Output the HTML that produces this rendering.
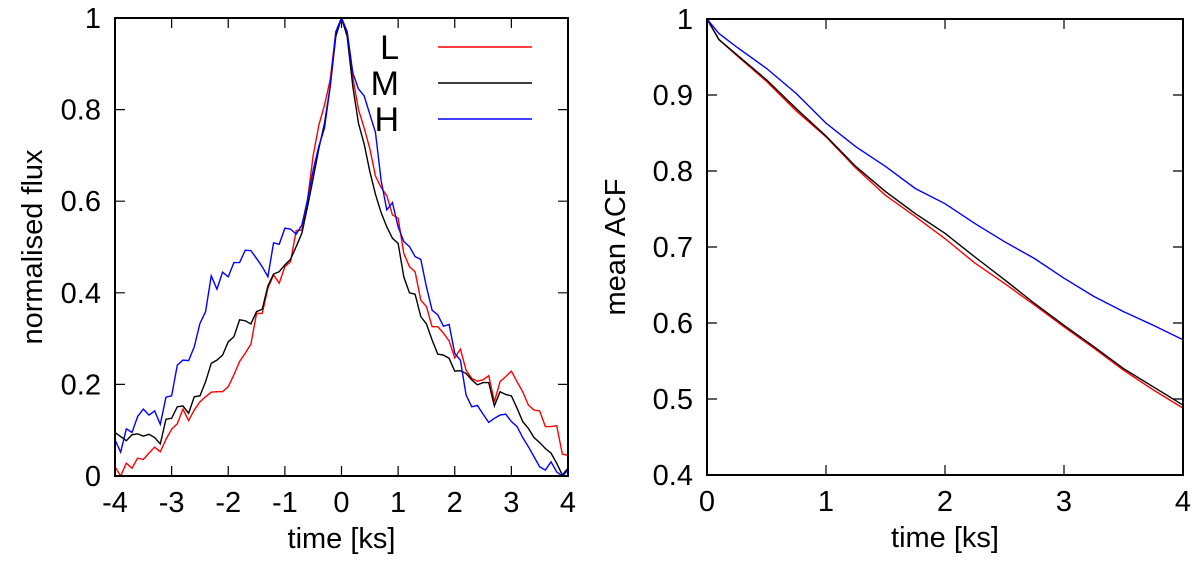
<!DOCTYPE html>
<html><head><meta charset="utf-8"><style>
body{margin:0;background:#fff;}
svg text{font-family:"Liberation Sans",sans-serif;fill:#000;}
</style></head><body>
<svg id="fig" width="1200" height="561" viewBox="0 0 1200 561">
<g id="left"></g>
<g id="right"></g>
</svg>
<script>
const fluxTimes = [];
for (let i = -40; i <= 40; i++) fluxTimes.push(i / 10);
const fluxL = [0.02,0.0,0.028,0.017,0.039,0.036,0.05,0.063,0.053,0.08,0.102,0.114,0.146,0.121,0.144,0.162,0.173,0.183,0.184,0.184,0.195,0.221,0.25,0.268,0.288,0.355,0.355,0.41,0.439,0.421,0.457,0.468,0.536,0.537,0.603,0.70,0.766,0.81,0.865,0.97,1.0,
0.97,0.87,0.80,0.76,0.715,0.655,0.63,0.612,0.570,0.563,0.486,0.457,0.446,0.384,0.370,0.326,0.326,0.312,0.295,0.258,0.277,0.231,0.213,0.207,0.210,0.219,0.162,0.206,0.217,0.229,0.206,0.184,0.155,0.144,0.142,0.108,0.108,0.110,0.048,0.045];
const fluxM = [0.095,0.086,0.077,0.090,0.092,0.087,0.091,0.084,0.070,0.124,0.126,0.151,0.153,0.137,0.173,0.175,0.206,0.246,0.253,0.264,0.293,0.304,0.341,0.339,0.332,0.359,0.364,0.415,0.441,0.446,0.461,0.473,0.501,0.530,0.588,0.65,0.715,0.77,0.85,0.96,1.0,
0.96,0.85,0.77,0.725,0.665,0.615,0.575,0.544,0.519,0.508,0.435,0.400,0.397,0.348,0.332,0.297,0.266,0.264,0.257,0.229,0.230,0.224,0.210,0.199,0.204,0.204,0.153,0.184,0.178,0.175,0.148,0.119,0.104,0.084,0.073,0.060,0.050,0.028,0.002,0.017];
const fluxH = [0.079,0.052,0.103,0.095,0.13,0.146,0.133,0.142,0.113,0.172,0.175,0.242,0.253,0.252,0.282,0.333,0.359,0.437,0.408,0.445,0.435,0.466,0.466,0.493,0.492,0.475,0.457,0.435,0.509,0.506,0.541,0.539,0.528,0.548,0.603,0.668,0.72,0.76,0.85,0.97,1.0,
0.97,0.88,0.845,0.83,0.79,0.75,0.645,0.581,0.597,0.544,0.512,0.501,0.479,0.473,0.413,0.362,0.352,0.327,0.331,0.268,0.253,0.177,0.151,0.154,0.135,0.117,0.126,0.133,0.135,0.119,0.108,0.084,0.064,0.042,0.020,0.013,0.031,0.009,0.0,0.013];
const acfTimes = [0,0.1,0.25,0.5,0.75,1.0,1.25,1.5,1.75,2.0,2.25,2.5,2.75,3.0,3.25,3.5,3.75,4.0];
const acfL = [1,0.973,0.952,0.918,0.879,0.845,0.804,0.768,0.740,0.711,0.679,0.652,0.624,0.595,0.567,0.538,0.512,0.488];
const acfM = [1,0.973,0.953,0.920,0.882,0.846,0.806,0.773,0.744,0.718,0.687,0.657,0.626,0.597,0.569,0.540,0.516,0.492];
const acfH = [1,0.981,0.963,0.935,0.902,0.863,0.832,0.806,0.777,0.757,0.731,0.707,0.685,0.659,0.635,0.615,0.597,0.578];
const leftXTicks = ["-4","-3","-2","-1","0","1","2","3","4"];
const leftYTicks = ["0","0.2","0.4","0.6","0.8","1"];
const rightXTicks = ["0","1","2","3","4"];
const rightYTicks = ["0.4","0.5","0.6","0.7","0.8","0.9","1"];

const NS = "http://www.w3.org/2000/svg";
function mk(parent, tag, attrs, text) {
  const e = document.createElementNS(NS, tag);
  for (const k in attrs) e.setAttribute(k, attrs[k]);
  if (text !== undefined) e.textContent = text;
  parent.appendChild(e);
  return e;
}

function drawPanel(g, box, xmin, xmax, ymin, ymax, xt, yt, xtitle, ytitle, ytitleX, series, prefix) {
  const sx = v => box.x0 + (v - xmin) / (xmax - xmin) * (box.x1 - box.x0);
  const sy = v => box.y1 - (v - ymin) / (ymax - ymin) * (box.y1 - box.y0);
  xt.forEach(t => {
    const v = parseFloat(t), x = sx(v);
    const tk = mk(g, "path", {d:`M${x},${box.y1}v-10M${x},${box.y0}v10`, stroke:"#000", "stroke-width":1.2});
    
    
    const lb = mk(g, "text", {x:x, y:box.y1+36, "text-anchor":"middle", "font-size":29}, t);
    
    
  });
  yt.forEach(t => {
    const v = parseFloat(t), y = sy(v);
    const tk = mk(g, "path", {d:`M${box.x0},${y}h10M${box.x1},${y}h-10`, stroke:"#000", "stroke-width":1.2});
    
    
    const lb = mk(g, "text", {x:box.x0-14, y:y+10, "text-anchor":"end", "font-size":29}, t);
    
    
  });
  series.forEach(s => {
    const d = s.x.map((xv, i) => (i ? "L" : "M") + sx(xv).toFixed(2) + "," + sy(s.y[i]).toFixed(2)).join("");
    const p = mk(g, "path", {d:d, fill:"none", stroke:s.c, "stroke-width":1.4, "clip-path":`url(#${prefix}clip)`});
    
    
  });
  const fr = mk(g, "rect", {x:box.x0, y:box.y0, width:box.x1-box.x0, height:box.y1-box.y0, fill:"none", stroke:"#000", "stroke-width":2});
  
  
  const xl = mk(g, "text", {x:(box.x0+box.x1)/2, y:box.y1+72, "text-anchor":"middle", "font-size":29}, xtitle);
  
  
  const cy = (box.y0+box.y1)/2;
  const yl = mk(g, "text", {x:ytitleX, y:cy, "text-anchor":"middle", "font-size":29, transform:`rotate(-90 ${ytitleX} ${cy})`}, ytitle);
  
  
}

const svg = document.getElementById("fig");
const defs = mk(svg, "defs", {});
const c1 = mk(defs, "clipPath", {id:"Lclip"}); mk(c1, "rect", {x:115, y:18, width:453, height:458});
const c2 = mk(defs, "clipPath", {id:"Rclip"}); mk(c2, "rect", {x:707, y:19, width:476, height:456});

drawPanel(document.getElementById("left"), {x0:115, x1:568, y0:18, y1:476}, -4, 4, 0, 1,
  leftXTicks, leftYTicks, "time [ks]", "normalised flux", 42,
  [{x:fluxTimes, y:fluxL, c:"#ff0000", name:"flux-line-L"},
   {x:fluxTimes, y:fluxM, c:"#000000", name:"flux-line-M"},
   {x:fluxTimes, y:fluxH, c:"#0000ff", name:"flux-line-H"}], "L");

drawPanel(document.getElementById("right"), {x0:707, x1:1183, y0:19, y1:475}, 0, 4, 0.4, 1,
  rightXTicks, rightYTicks, "time [ks]", "mean ACF", 625,
  [{x:acfTimes, y:acfL, c:"#ff0000", name:"acf-line-L"},
   {x:acfTimes, y:acfM, c:"#000000", name:"acf-line-M"},
   {x:acfTimes, y:acfH, c:"#0000ff", name:"acf-line-H"}], "R");

const legend = mk(document.getElementById("left"), "g", {});


[["L","#ff0000",47],["M","#000000",83],["H","#0000ff",119]].forEach(([lab,col,y]) => {
  const t = mk(legend, "text", {x:399, y:y+12, "text-anchor":"end", "font-size":34}, lab);
  
  
  const l = mk(legend, "line", {x1:438, x2:532, y1:y, y2:y, stroke:col, "stroke-width":1.4});
  
  
});
</script>
</body></html>
